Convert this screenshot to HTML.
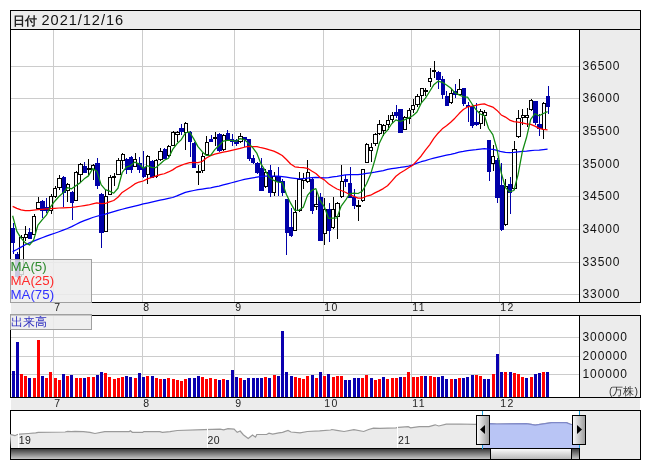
<!DOCTYPE html>
<html><head><meta charset="utf-8"><style>html,body{margin:0;padding:0;background:#fff;width:653px;height:470px;overflow:hidden}svg{display:block;will-change:transform}</style></head>
<body><svg width="653" height="470" viewBox="0 0 653 470">
<rect x="0" y="0" width="653" height="470" fill="#ffffff" />
<rect x="10" y="10" width="631" height="20" fill="#000" />
<rect x="11" y="11" width="629" height="18" fill="#ececec" />
<rect x="10" y="29" width="631" height="274" fill="#000" />
<rect x="11" y="30" width="568" height="272" fill="#ffffff" />
<rect x="580" y="30" width="60" height="272" fill="#ececec" />
<rect x="11" y="303" width="629" height="12" fill="#ececec" />
<rect x="10" y="315" width="631" height="83" fill="#000" />
<rect x="11" y="316" width="568" height="81" fill="#ffffff" />
<rect x="580" y="316" width="60" height="81" fill="#ececec" />
<rect x="11" y="398" width="629" height="12" fill="#ececec" />
<rect x="10" y="410" width="631" height="50" fill="#000" />
<rect x="11" y="411" width="569" height="37" fill="#ffffff" />
<rect x="580" y="411" width="60" height="48" fill="#ececec" />
<rect x="11" y="449" width="568" height="10" fill="#ececec" />
<rect x="11" y="66" width="568" height="1" fill="#cccccc" />
<rect x="11" y="98" width="568" height="1" fill="#cccccc" />
<rect x="11" y="131" width="568" height="1" fill="#cccccc" />
<rect x="11" y="164" width="568" height="1" fill="#cccccc" />
<rect x="11" y="196" width="568" height="1" fill="#cccccc" />
<rect x="11" y="229" width="568" height="1" fill="#cccccc" />
<rect x="11" y="262" width="568" height="1" fill="#cccccc" />
<rect x="11" y="294" width="568" height="1" fill="#cccccc" />
<rect x="53" y="30" width="1" height="272" fill="#cccccc" />
<rect x="142" y="30" width="1" height="272" fill="#cccccc" />
<rect x="234" y="30" width="1" height="272" fill="#cccccc" />
<rect x="323" y="30" width="1" height="272" fill="#cccccc" />
<rect x="411" y="30" width="1" height="272" fill="#cccccc" />
<rect x="499" y="30" width="1" height="272" fill="#cccccc" />
<rect x="11" y="337" width="568" height="1" fill="#cccccc" />
<rect x="11" y="356" width="568" height="1" fill="#cccccc" />
<rect x="11" y="374" width="568" height="1" fill="#cccccc" />
<rect x="53" y="316" width="1" height="81" fill="#cccccc" />
<rect x="142" y="316" width="1" height="81" fill="#cccccc" />
<rect x="234" y="316" width="1" height="81" fill="#cccccc" />
<rect x="323" y="316" width="1" height="81" fill="#cccccc" />
<rect x="411" y="316" width="1" height="81" fill="#cccccc" />
<rect x="499" y="316" width="1" height="81" fill="#cccccc" />
<g shape-rendering="crispEdges">
<rect x="13" y="223" width="1" height="31" fill="#0000a8" />
<rect x="11" y="228" width="4" height="15" fill="#0000a8" />
<rect x="17" y="252" width="1" height="26" fill="#0000a8" />
<rect x="15" y="254" width="5" height="23" fill="#0000a8" />
<rect x="21" y="235" width="1" height="42" fill="#000" />
<rect x="19" y="237" width="5" height="38" fill="#000" />
<rect x="20" y="238" width="3" height="36" fill="#fff" />
<rect x="25" y="226" width="1" height="15" fill="#000" />
<rect x="24" y="234" width="4" height="4" fill="#000" />
<rect x="25" y="235" width="2" height="2" fill="#fff" />
<rect x="29" y="228" width="1" height="11" fill="#0000a8" />
<rect x="28" y="232" width="4" height="7" fill="#0000a8" />
<rect x="34" y="214" width="1" height="21" fill="#000" />
<rect x="32" y="216" width="4" height="19" fill="#000" />
<rect x="33" y="217" width="2" height="17" fill="#fff" />
<rect x="38" y="197" width="1" height="13" fill="#000" />
<rect x="36" y="202" width="5" height="7" fill="#000" />
<rect x="37" y="203" width="3" height="5" fill="#fff" />
<rect x="42" y="200" width="1" height="18" fill="#0000a8" />
<rect x="40" y="201" width="5" height="10" fill="#0000a8" />
<rect x="46" y="198" width="1" height="15" fill="#0000a8" />
<rect x="45" y="207" width="4" height="4" fill="#0000a8" />
<rect x="51" y="194" width="1" height="20" fill="#000" />
<rect x="49" y="196" width="4" height="15" fill="#000" />
<rect x="50" y="197" width="2" height="13" fill="#fff" />
<rect x="55" y="186" width="1" height="12" fill="#000" />
<rect x="53" y="188" width="4" height="9" fill="#000" />
<rect x="54" y="189" width="2" height="7" fill="#fff" />
<rect x="59" y="175" width="1" height="15" fill="#000" />
<rect x="57" y="178" width="5" height="10" fill="#000" />
<rect x="58" y="179" width="3" height="8" fill="#fff" />
<rect x="63" y="176" width="1" height="31" fill="#0000a8" />
<rect x="62" y="177" width="4" height="16" fill="#0000a8" />
<rect x="67" y="183" width="1" height="19" fill="#000" />
<rect x="66" y="184" width="4" height="7" fill="#000" />
<rect x="67" y="185" width="2" height="5" fill="#fff" />
<rect x="72" y="191" width="1" height="29" fill="#0000a8" />
<rect x="70" y="192" width="4" height="11" fill="#0000a8" />
<rect x="76" y="171" width="1" height="30" fill="#000" />
<rect x="74" y="172" width="4" height="29" fill="#000" />
<rect x="75" y="173" width="2" height="27" fill="#fff" />
<rect x="80" y="163" width="1" height="19" fill="#000" />
<rect x="78" y="164" width="5" height="11" fill="#000" />
<rect x="79" y="165" width="3" height="9" fill="#fff" />
<rect x="84" y="162" width="1" height="11" fill="#0000a8" />
<rect x="83" y="166" width="4" height="7" fill="#0000a8" />
<rect x="88" y="159" width="1" height="16" fill="#000" />
<rect x="87" y="168" width="4" height="2" fill="#000" />
<rect x="93" y="164" width="1" height="16" fill="#000" />
<rect x="91" y="165" width="4" height="5" fill="#000" />
<rect x="92" y="166" width="2" height="3" fill="#fff" />
<rect x="97" y="158" width="1" height="31" fill="#0000a8" />
<rect x="95" y="163" width="5" height="23" fill="#0000a8" />
<rect x="101" y="193" width="1" height="55" fill="#0000a8" />
<rect x="99" y="194" width="5" height="39" fill="#0000a8" />
<rect x="105" y="190" width="1" height="42" fill="#000" />
<rect x="104" y="196" width="4" height="36" fill="#000" />
<rect x="105" y="197" width="2" height="34" fill="#fff" />
<rect x="110" y="175" width="1" height="20" fill="#000" />
<rect x="108" y="177" width="4" height="18" fill="#000" />
<rect x="109" y="178" width="2" height="16" fill="#fff" />
<rect x="114" y="173" width="1" height="13" fill="#000" />
<rect x="112" y="176" width="4" height="2" fill="#000" />
<rect x="118" y="158" width="1" height="17" fill="#000" />
<rect x="116" y="160" width="5" height="15" fill="#000" />
<rect x="117" y="161" width="3" height="13" fill="#fff" />
<rect x="122" y="153" width="1" height="16" fill="#000" />
<rect x="121" y="154" width="4" height="7" fill="#000" />
<rect x="122" y="155" width="2" height="5" fill="#fff" />
<rect x="126" y="158" width="1" height="16" fill="#0000a8" />
<rect x="125" y="159" width="4" height="11" fill="#0000a8" />
<rect x="131" y="156" width="1" height="17" fill="#0000a8" />
<rect x="129" y="157" width="4" height="13" fill="#0000a8" />
<rect x="135" y="153" width="1" height="14" fill="#000" />
<rect x="133" y="159" width="4" height="8" fill="#000" />
<rect x="134" y="160" width="2" height="6" fill="#fff" />
<rect x="139" y="157" width="1" height="16" fill="#0000a8" />
<rect x="137" y="163" width="5" height="7" fill="#0000a8" />
<rect x="143" y="151" width="1" height="27" fill="#0000a8" />
<rect x="142" y="167" width="4" height="10" fill="#0000a8" />
<rect x="147" y="155" width="1" height="29" fill="#000" />
<rect x="146" y="156" width="4" height="19" fill="#000" />
<rect x="147" y="157" width="2" height="17" fill="#fff" />
<rect x="152" y="160" width="1" height="18" fill="#0000a8" />
<rect x="150" y="161" width="4" height="17" fill="#0000a8" />
<rect x="156" y="159" width="1" height="19" fill="#000" />
<rect x="154" y="160" width="4" height="17" fill="#000" />
<rect x="155" y="161" width="2" height="15" fill="#fff" />
<rect x="160" y="148" width="1" height="13" fill="#000" />
<rect x="158" y="151" width="5" height="9" fill="#000" />
<rect x="159" y="152" width="3" height="7" fill="#fff" />
<rect x="164" y="148" width="1" height="11" fill="#0000a8" />
<rect x="163" y="149" width="4" height="10" fill="#0000a8" />
<rect x="168" y="145" width="1" height="12" fill="#000" />
<rect x="167" y="146" width="4" height="10" fill="#000" />
<rect x="168" y="147" width="2" height="8" fill="#fff" />
<rect x="173" y="131" width="1" height="15" fill="#000" />
<rect x="171" y="132" width="4" height="14" fill="#000" />
<rect x="172" y="133" width="2" height="12" fill="#fff" />
<rect x="177" y="131" width="1" height="11" fill="#000" />
<rect x="175" y="132" width="5" height="3" fill="#000" />
<rect x="176" y="133" width="3" height="1" fill="#fff" />
<rect x="181" y="124" width="1" height="11" fill="#0000a8" />
<rect x="179" y="128" width="5" height="4" fill="#0000a8" />
<rect x="185" y="122" width="1" height="28" fill="#000" />
<rect x="184" y="123" width="4" height="10" fill="#000" />
<rect x="185" y="124" width="2" height="8" fill="#fff" />
<rect x="190" y="131" width="1" height="26" fill="#0000a8" />
<rect x="188" y="132" width="4" height="10" fill="#0000a8" />
<rect x="194" y="142" width="1" height="26" fill="#0000a8" />
<rect x="192" y="143" width="4" height="25" fill="#0000a8" />
<rect x="198" y="165" width="1" height="20" fill="#000" />
<rect x="196" y="171" width="5" height="2" fill="#000" />
<rect x="202" y="153" width="1" height="20" fill="#000" />
<rect x="201" y="156" width="4" height="15" fill="#000" />
<rect x="202" y="157" width="2" height="13" fill="#fff" />
<rect x="206" y="136" width="1" height="19" fill="#000" />
<rect x="205" y="142" width="4" height="13" fill="#000" />
<rect x="206" y="143" width="2" height="11" fill="#fff" />
<rect x="211" y="135" width="1" height="7" fill="#0000a8" />
<rect x="209" y="139" width="4" height="3" fill="#0000a8" />
<rect x="215" y="132" width="1" height="14" fill="#000" />
<rect x="213" y="137" width="4" height="2" fill="#000" />
<rect x="219" y="133" width="1" height="19" fill="#0000a8" />
<rect x="217" y="134" width="5" height="17" fill="#0000a8" />
<rect x="223" y="134" width="1" height="17" fill="#000" />
<rect x="222" y="135" width="4" height="15" fill="#000" />
<rect x="223" y="136" width="2" height="13" fill="#fff" />
<rect x="227" y="130" width="1" height="10" fill="#0000a8" />
<rect x="226" y="133" width="4" height="7" fill="#0000a8" />
<rect x="232" y="134" width="1" height="12" fill="#0000a8" />
<rect x="230" y="139" width="4" height="3" fill="#0000a8" />
<rect x="236" y="139" width="1" height="7" fill="#0000a8" />
<rect x="234" y="140" width="5" height="4" fill="#0000a8" />
<rect x="240" y="133" width="1" height="10" fill="#000" />
<rect x="238" y="136" width="5" height="6" fill="#000" />
<rect x="239" y="137" width="3" height="4" fill="#fff" />
<rect x="244" y="137" width="1" height="10" fill="#0000a8" />
<rect x="243" y="137" width="4" height="3" fill="#0000a8" />
<rect x="249" y="139" width="1" height="22" fill="#0000a8" />
<rect x="247" y="139" width="4" height="20" fill="#0000a8" />
<rect x="253" y="155" width="1" height="9" fill="#0000a8" />
<rect x="251" y="158" width="4" height="5" fill="#0000a8" />
<rect x="257" y="162" width="1" height="12" fill="#0000a8" />
<rect x="255" y="163" width="5" height="10" fill="#0000a8" />
<rect x="261" y="158" width="1" height="33" fill="#0000a8" />
<rect x="259" y="168" width="5" height="23" fill="#0000a8" />
<rect x="265" y="169" width="1" height="19" fill="#000" />
<rect x="264" y="172" width="4" height="15" fill="#000" />
<rect x="265" y="173" width="2" height="13" fill="#fff" />
<rect x="270" y="165" width="1" height="32" fill="#0000a8" />
<rect x="268" y="170" width="4" height="23" fill="#0000a8" />
<rect x="274" y="172" width="1" height="24" fill="#000" />
<rect x="272" y="176" width="4" height="17" fill="#000" />
<rect x="273" y="177" width="2" height="15" fill="#fff" />
<rect x="278" y="167" width="1" height="29" fill="#0000a8" />
<rect x="276" y="176" width="5" height="6" fill="#0000a8" />
<rect x="282" y="179" width="1" height="17" fill="#0000a8" />
<rect x="281" y="181" width="4" height="12" fill="#0000a8" />
<rect x="286" y="199" width="1" height="56" fill="#0000a8" />
<rect x="285" y="199" width="4" height="34" fill="#0000a8" />
<rect x="291" y="208" width="1" height="29" fill="#0000a8" />
<rect x="289" y="227" width="4" height="9" fill="#0000a8" />
<rect x="295" y="200" width="1" height="31" fill="#000" />
<rect x="293" y="212" width="4" height="19" fill="#000" />
<rect x="294" y="213" width="2" height="17" fill="#fff" />
<rect x="299" y="172" width="1" height="40" fill="#000" />
<rect x="297" y="179" width="5" height="32" fill="#000" />
<rect x="298" y="180" width="3" height="30" fill="#fff" />
<rect x="303" y="173" width="1" height="16" fill="#000" />
<rect x="302" y="178" width="4" height="3" fill="#000" />
<rect x="303" y="179" width="2" height="1" fill="#fff" />
<rect x="307" y="160" width="1" height="23" fill="#000" />
<rect x="306" y="172" width="4" height="10" fill="#000" />
<rect x="307" y="173" width="2" height="8" fill="#fff" />
<rect x="312" y="178" width="1" height="36" fill="#0000a8" />
<rect x="310" y="179" width="4" height="32" fill="#0000a8" />
<rect x="316" y="191" width="1" height="19" fill="#000" />
<rect x="314" y="204" width="5" height="3" fill="#000" />
<rect x="315" y="205" width="3" height="1" fill="#fff" />
<rect x="320" y="193" width="1" height="48" fill="#0000a8" />
<rect x="318" y="197" width="5" height="44" fill="#0000a8" />
<rect x="324" y="198" width="1" height="47" fill="#000" />
<rect x="323" y="209" width="4" height="25" fill="#000" />
<rect x="324" y="210" width="2" height="23" fill="#fff" />
<rect x="329" y="203" width="1" height="39" fill="#0000a8" />
<rect x="327" y="209" width="4" height="22" fill="#0000a8" />
<rect x="333" y="197" width="1" height="32" fill="#000" />
<rect x="331" y="209" width="4" height="19" fill="#000" />
<rect x="332" y="210" width="2" height="17" fill="#fff" />
<rect x="337" y="202" width="1" height="37" fill="#000" />
<rect x="335" y="203" width="5" height="14" fill="#000" />
<rect x="336" y="204" width="3" height="12" fill="#fff" />
<rect x="341" y="165" width="1" height="33" fill="#000" />
<rect x="340" y="181" width="4" height="16" fill="#000" />
<rect x="341" y="182" width="2" height="14" fill="#fff" />
<rect x="345" y="175" width="1" height="12" fill="#0000a8" />
<rect x="344" y="179" width="4" height="3" fill="#0000a8" />
<rect x="350" y="167" width="1" height="31" fill="#0000a8" />
<rect x="348" y="183" width="4" height="15" fill="#0000a8" />
<rect x="354" y="189" width="1" height="20" fill="#0000a8" />
<rect x="352" y="197" width="4" height="9" fill="#0000a8" />
<rect x="358" y="200" width="1" height="21" fill="#000" />
<rect x="356" y="205" width="5" height="2" fill="#000" />
<rect x="362" y="169" width="1" height="33" fill="#000" />
<rect x="361" y="169" width="4" height="32" fill="#000" />
<rect x="362" y="170" width="2" height="30" fill="#fff" />
<rect x="366" y="143" width="1" height="20" fill="#000" />
<rect x="365" y="144" width="4" height="19" fill="#000" />
<rect x="366" y="145" width="2" height="17" fill="#fff" />
<rect x="371" y="143" width="1" height="19" fill="#000" />
<rect x="369" y="147" width="4" height="4" fill="#000" />
<rect x="370" y="148" width="2" height="2" fill="#fff" />
<rect x="375" y="133" width="1" height="13" fill="#000" />
<rect x="373" y="134" width="5" height="10" fill="#000" />
<rect x="374" y="135" width="3" height="8" fill="#fff" />
<rect x="379" y="120" width="1" height="15" fill="#000" />
<rect x="377" y="124" width="5" height="10" fill="#000" />
<rect x="378" y="125" width="3" height="8" fill="#fff" />
<rect x="383" y="124" width="1" height="12" fill="#000" />
<rect x="382" y="125" width="4" height="6" fill="#000" />
<rect x="383" y="126" width="2" height="4" fill="#fff" />
<rect x="388" y="115" width="1" height="15" fill="#000" />
<rect x="386" y="120" width="4" height="5" fill="#000" />
<rect x="387" y="121" width="2" height="3" fill="#fff" />
<rect x="392" y="112" width="1" height="11" fill="#000" />
<rect x="390" y="115" width="4" height="5" fill="#000" />
<rect x="391" y="116" width="2" height="3" fill="#fff" />
<rect x="396" y="105" width="1" height="13" fill="#0000a8" />
<rect x="394" y="112" width="5" height="4" fill="#0000a8" />
<rect x="400" y="109" width="1" height="24" fill="#0000a8" />
<rect x="398" y="109" width="5" height="24" fill="#0000a8" />
<rect x="404" y="116" width="1" height="14" fill="#000" />
<rect x="403" y="117" width="4" height="13" fill="#000" />
<rect x="404" y="118" width="2" height="11" fill="#fff" />
<rect x="409" y="108" width="1" height="16" fill="#000" />
<rect x="407" y="110" width="4" height="9" fill="#000" />
<rect x="408" y="111" width="2" height="7" fill="#fff" />
<rect x="413" y="99" width="1" height="14" fill="#000" />
<rect x="411" y="105" width="4" height="5" fill="#000" />
<rect x="412" y="106" width="2" height="3" fill="#fff" />
<rect x="417" y="94" width="1" height="13" fill="#000" />
<rect x="415" y="96" width="5" height="9" fill="#000" />
<rect x="416" y="97" width="3" height="7" fill="#fff" />
<rect x="421" y="88" width="1" height="15" fill="#000" />
<rect x="420" y="88" width="4" height="8" fill="#000" />
<rect x="421" y="89" width="2" height="6" fill="#fff" />
<rect x="425" y="88" width="1" height="8" fill="#000" />
<rect x="424" y="90" width="4" height="2" fill="#000" />
<rect x="430" y="68" width="1" height="19" fill="#000" />
<rect x="428" y="78" width="4" height="4" fill="#000" />
<rect x="429" y="79" width="2" height="2" fill="#fff" />
<rect x="434" y="61" width="1" height="17" fill="#000" />
<rect x="432" y="70" width="4" height="2" fill="#000" />
<rect x="438" y="71" width="1" height="18" fill="#0000a8" />
<rect x="436" y="72" width="5" height="8" fill="#0000a8" />
<rect x="442" y="76" width="1" height="23" fill="#0000a8" />
<rect x="441" y="79" width="4" height="16" fill="#0000a8" />
<rect x="446" y="91" width="1" height="15" fill="#0000a8" />
<rect x="445" y="96" width="4" height="10" fill="#0000a8" />
<rect x="451" y="89" width="1" height="15" fill="#000" />
<rect x="449" y="93" width="4" height="10" fill="#000" />
<rect x="450" y="94" width="2" height="8" fill="#fff" />
<rect x="455" y="84" width="1" height="14" fill="#0000a8" />
<rect x="453" y="91" width="5" height="4" fill="#0000a8" />
<rect x="459" y="79" width="1" height="16" fill="#000" />
<rect x="457" y="89" width="5" height="6" fill="#000" />
<rect x="458" y="90" width="3" height="4" fill="#fff" />
<rect x="463" y="88" width="1" height="18" fill="#0000a8" />
<rect x="462" y="88" width="4" height="16" fill="#0000a8" />
<rect x="468" y="102" width="1" height="20" fill="#0000a8" />
<rect x="466" y="105" width="4" height="2" fill="#0000a8" />
<rect x="472" y="106" width="1" height="22" fill="#0000a8" />
<rect x="470" y="106" width="4" height="20" fill="#0000a8" />
<rect x="476" y="103" width="1" height="23" fill="#0000a8" />
<rect x="474" y="122" width="5" height="3" fill="#0000a8" />
<rect x="480" y="109" width="1" height="20" fill="#000" />
<rect x="479" y="111" width="4" height="13" fill="#000" />
<rect x="480" y="112" width="2" height="11" fill="#fff" />
<rect x="484" y="110" width="1" height="16" fill="#000" />
<rect x="483" y="112" width="4" height="4" fill="#000" />
<rect x="484" y="113" width="2" height="2" fill="#fff" />
<rect x="489" y="140" width="1" height="41" fill="#0000a8" />
<rect x="487" y="140" width="4" height="32" fill="#0000a8" />
<rect x="493" y="145" width="1" height="26" fill="#000" />
<rect x="491" y="156" width="4" height="8" fill="#000" />
<rect x="492" y="157" width="2" height="6" fill="#fff" />
<rect x="497" y="158" width="1" height="45" fill="#0000a8" />
<rect x="495" y="160" width="5" height="38" fill="#0000a8" />
<rect x="501" y="163" width="1" height="68" fill="#0000a8" />
<rect x="500" y="185" width="4" height="45" fill="#0000a8" />
<rect x="505" y="179" width="1" height="47" fill="#000" />
<rect x="504" y="186" width="4" height="39" fill="#000" />
<rect x="505" y="187" width="2" height="37" fill="#fff" />
<rect x="510" y="177" width="1" height="37" fill="#0000a8" />
<rect x="508" y="184" width="4" height="9" fill="#0000a8" />
<rect x="514" y="141" width="1" height="49" fill="#000" />
<rect x="512" y="149" width="5" height="40" fill="#000" />
<rect x="513" y="150" width="3" height="38" fill="#fff" />
<rect x="518" y="110" width="1" height="28" fill="#000" />
<rect x="516" y="118" width="5" height="19" fill="#000" />
<rect x="517" y="119" width="3" height="17" fill="#fff" />
<rect x="522" y="109" width="1" height="16" fill="#000" />
<rect x="521" y="115" width="4" height="3" fill="#000" />
<rect x="522" y="116" width="2" height="1" fill="#fff" />
<rect x="527" y="108" width="1" height="19" fill="#000" />
<rect x="525" y="115" width="4" height="3" fill="#000" />
<rect x="526" y="116" width="2" height="1" fill="#fff" />
<rect x="531" y="99" width="1" height="12" fill="#000" />
<rect x="529" y="100" width="4" height="10" fill="#000" />
<rect x="530" y="101" width="2" height="8" fill="#fff" />
<rect x="535" y="101" width="1" height="24" fill="#0000a8" />
<rect x="533" y="101" width="5" height="22" fill="#0000a8" />
<rect x="539" y="114" width="1" height="22" fill="#0000a8" />
<rect x="537" y="124" width="5" height="5" fill="#0000a8" />
<rect x="543" y="102" width="1" height="37" fill="#000" />
<rect x="542" y="103" width="4" height="27" fill="#000" />
<rect x="543" y="104" width="2" height="25" fill="#fff" />
<rect x="548" y="86" width="1" height="28" fill="#0000a8" />
<rect x="546" y="96" width="4" height="11" fill="#0000a8" />
</g>
<polyline points="12.64,251.59 16.85,249.47 21.06,247.11 25.28,244.75 29.49,242.82 33.70,241.12 37.91,239.43 42.12,237.73 46.34,236.17 50.55,234.70 54.76,233.22 58.97,231.74 63.18,230.16 67.40,228.52 71.61,226.60 75.82,224.49 80.03,222.38 84.24,220.69 88.46,219.09 92.67,217.48 96.88,216.24 101.09,215.19 105.30,214.11 109.52,212.87 113.73,211.64 117.94,210.40 122.15,209.27 126.36,208.22 130.58,207.17 134.79,206.13 139.00,205.04 143.21,203.95 147.42,203.02 151.64,202.08 155.85,201.14 160.06,200.22 164.27,199.31 168.48,198.40 172.70,197.49 176.91,195.92 181.12,194.16 185.33,192.40 189.54,191.40 193.76,190.51 197.97,189.69 202.18,189.06 206.39,188.43 210.60,187.79 214.82,186.95 219.03,186.02 223.24,184.95 227.45,183.84 231.66,182.74 235.88,181.63 240.09,180.52 244.30,179.47 248.51,178.69 252.72,177.91 256.94,177.14 261.15,176.36 265.36,176.20 269.57,176.20 273.78,176.20 278.00,176.20 282.21,176.64 286.42,177.23 290.63,177.81 294.84,178.40 299.06,178.98 303.27,178.57 307.48,178.13 311.69,177.69 315.90,177.43 320.12,177.51 324.33,177.83 328.54,177.68 332.75,176.79 336.96,176.33 341.18,175.62 345.39,174.86 349.60,174.60 353.81,174.65 358.02,174.58 362.24,174.03 366.45,173.34 370.66,172.80 374.87,172.21 379.08,171.31 383.30,170.52 387.51,169.43 391.72,168.67 395.93,168.01 400.14,167.48 404.36,166.78 408.57,166.05 412.78,164.97 416.99,163.16 421.20,161.72 425.42,160.58 429.63,159.27 433.84,158.07 438.05,157.06 442.26,156.06 446.48,155.20 450.69,154.32 454.90,153.32 459.11,152.16 463.32,151.46 467.54,150.52 471.75,150.05 475.96,149.70 480.17,149.08 484.38,148.61 488.60,149.13 492.81,149.44 497.02,150.33 501.23,151.73 505.44,152.33 509.66,152.66 513.87,152.37 518.08,151.85 522.29,151.49 526.50,151.14 530.72,150.64 534.93,150.25 539.14,150.16 543.35,149.69 547.56,149.22" fill="none" stroke="#0000ff" stroke-width="1.25" stroke-linejoin="round"/>
<polyline points="12.64,206.32 16.85,208.31 21.06,209.92 25.28,210.66 29.49,210.72 33.70,210.20 37.91,209.71 42.12,209.28 46.34,208.85 50.55,208.55 54.76,208.28 58.97,208.00 63.18,207.77 67.40,207.54 71.61,207.31 75.82,206.88 80.03,206.25 84.24,205.62 88.46,204.99 92.67,203.91 96.88,202.84 101.09,203.56 105.30,203.48 109.52,201.90 113.73,200.50 117.94,197.24 122.15,192.40 126.36,189.66 130.58,187.08 134.79,183.92 139.00,182.04 143.21,181.01 147.42,178.86 151.64,177.52 155.85,176.08 160.06,174.58 164.27,173.75 168.48,171.94 172.70,169.86 176.91,167.07 181.12,165.42 185.33,163.78 189.54,162.56 193.76,162.45 197.97,162.68 202.18,161.52 206.39,157.94 210.60,155.70 214.82,154.14 219.03,153.13 223.24,152.10 227.45,151.47 231.66,150.36 235.88,149.32 240.09,148.42 244.30,147.23 248.51,146.49 252.72,146.72 256.94,146.55 261.15,147.73 265.36,148.61 269.57,149.96 273.78,151.16 278.00,153.09 282.21,155.50 286.42,159.53 290.63,164.00 294.84,166.83 299.06,167.34 303.27,167.63 307.48,168.28 311.69,170.98 315.90,173.49 320.12,177.56 324.33,179.88 328.54,183.70 332.75,186.50 336.96,188.97 341.18,190.47 345.39,192.26 349.60,194.55 353.81,196.43 358.02,198.15 362.24,198.03 366.45,196.22 370.66,195.21 374.87,192.91 379.08,190.83 383.30,188.60 387.51,185.73 391.72,181.06 395.93,176.25 400.14,173.06 404.36,170.55 408.57,167.83 412.78,165.12 416.99,160.58 421.20,155.96 425.42,150.03 429.63,144.79 433.84,138.40 438.05,133.20 442.26,128.85 446.48,125.82 450.69,122.29 454.90,118.18 459.11,113.57 463.32,109.50 467.54,106.98 471.75,106.20 475.96,105.28 480.17,104.36 484.38,103.86 488.60,105.70 492.81,107.10 497.02,110.39 501.23,114.95 505.44,117.09 509.66,120.09 513.87,121.64 518.08,122.17 522.29,122.91 526.50,123.97 530.72,124.32 534.93,126.08 539.14,128.39 543.35,129.37 547.56,129.84" fill="none" stroke="#ff0000" stroke-width="1.25" stroke-linejoin="round"/>
<polyline points="12.64,215.78 16.85,231.34 21.06,238.06 25.28,242.86 29.49,245.04 33.70,239.94 37.91,225.18 42.12,219.82 46.34,215.12 50.55,206.82 54.76,201.22 58.97,196.54 63.18,192.84 67.40,187.70 71.61,188.80 75.82,185.66 80.03,182.86 84.24,178.86 88.46,175.88 92.67,168.60 96.88,171.16 101.09,184.66 105.30,189.60 109.52,191.12 113.73,193.22 117.94,188.24 122.15,172.74 126.36,167.20 130.58,165.60 134.79,162.14 139.00,163.90 143.21,168.26 147.42,165.78 151.64,167.32 155.85,167.64 160.06,163.94 164.27,160.24 168.48,158.26 172.70,149.38 176.91,143.76 181.12,139.88 185.33,133.00 189.54,131.98 193.76,138.84 197.97,146.64 202.18,151.66 206.39,155.44 210.60,155.30 214.82,149.58 219.03,145.46 223.24,141.12 227.45,140.40 231.66,140.48 235.88,141.48 240.09,138.60 244.30,139.54 248.51,143.38 252.72,147.60 256.94,153.48 261.15,164.20 265.36,170.84 269.57,177.60 273.78,180.42 278.00,182.08 282.21,182.58 286.42,194.48 290.63,203.16 294.84,210.34 299.06,210.08 303.27,207.32 307.48,195.40 311.69,190.34 315.90,188.62 320.12,200.66 324.33,206.70 328.54,218.26 332.75,218.04 336.96,217.86 341.18,206.04 345.39,200.48 349.60,193.76 353.81,193.02 358.02,193.50 362.24,191.28 366.45,184.00 370.66,174.14 374.87,160.00 379.08,143.82 383.30,134.92 387.51,130.14 391.72,123.72 395.93,119.84 400.14,121.50 404.36,119.84 408.57,117.82 412.78,115.72 416.99,111.98 421.20,103.12 425.42,98.08 429.63,91.52 433.84,84.66 438.05,81.16 442.26,82.30 446.48,84.96 450.69,87.98 454.90,92.68 459.11,94.86 463.32,96.78 467.54,97.12 471.75,103.52 475.96,109.60 480.17,113.96 484.38,115.60 488.60,128.50 492.81,134.68 497.02,149.30 501.23,172.78 505.44,187.64 509.66,191.78 513.87,190.52 518.08,174.60 522.29,151.78 526.50,137.54 530.72,119.26 534.93,113.72 539.14,115.76 543.35,113.46 547.56,111.62" fill="none" stroke="#108a10" stroke-width="1.25" stroke-linejoin="round"/>
<g shape-rendering="crispEdges">
<rect x="12" y="371" width="3" height="26" fill="#0a00b0" />
<rect x="16" y="342" width="3" height="55" fill="#0a00b0" />
<rect x="20" y="374" width="3" height="23" fill="#ff0000" />
<rect x="24" y="376" width="3" height="21" fill="#ff0000" />
<rect x="28" y="378" width="3" height="19" fill="#0a00b0" />
<rect x="33" y="378" width="3" height="19" fill="#ff0000" />
<rect x="37" y="340" width="3" height="57" fill="#ff0000" />
<rect x="41" y="376" width="3" height="21" fill="#0a00b0" />
<rect x="45" y="378" width="3" height="19" fill="#ff0000" />
<rect x="49" y="372" width="3" height="25" fill="#ff0000" />
<rect x="54" y="378" width="3" height="19" fill="#ff0000" />
<rect x="58" y="380" width="3" height="17" fill="#ff0000" />
<rect x="62" y="374" width="3" height="23" fill="#0a00b0" />
<rect x="66" y="376" width="3" height="21" fill="#ff0000" />
<rect x="70" y="375" width="3" height="22" fill="#0a00b0" />
<rect x="75" y="378" width="3" height="19" fill="#ff0000" />
<rect x="79" y="378" width="3" height="19" fill="#ff0000" />
<rect x="83" y="378" width="3" height="19" fill="#0a00b0" />
<rect x="87" y="377" width="3" height="20" fill="#ff0000" />
<rect x="92" y="377" width="3" height="20" fill="#ff0000" />
<rect x="96" y="375" width="3" height="22" fill="#0a00b0" />
<rect x="100" y="372" width="3" height="25" fill="#0a00b0" />
<rect x="104" y="373" width="3" height="24" fill="#ff0000" />
<rect x="108" y="377" width="3" height="20" fill="#ff0000" />
<rect x="113" y="379" width="3" height="18" fill="#ff0000" />
<rect x="117" y="378" width="3" height="19" fill="#ff0000" />
<rect x="121" y="377" width="3" height="20" fill="#ff0000" />
<rect x="125" y="376" width="3" height="21" fill="#0a00b0" />
<rect x="129" y="377" width="3" height="20" fill="#0a00b0" />
<rect x="134" y="378" width="3" height="19" fill="#ff0000" />
<rect x="138" y="373" width="3" height="24" fill="#0a00b0" />
<rect x="142" y="377" width="3" height="20" fill="#0a00b0" />
<rect x="146" y="376" width="3" height="21" fill="#ff0000" />
<rect x="151" y="376" width="3" height="21" fill="#0a00b0" />
<rect x="155" y="378" width="3" height="19" fill="#ff0000" />
<rect x="159" y="379" width="3" height="18" fill="#ff0000" />
<rect x="163" y="379" width="3" height="18" fill="#0a00b0" />
<rect x="167" y="378" width="3" height="19" fill="#ff0000" />
<rect x="172" y="379" width="3" height="18" fill="#ff0000" />
<rect x="176" y="380" width="3" height="17" fill="#ff0000" />
<rect x="180" y="381" width="3" height="16" fill="#ff0000" />
<rect x="184" y="379" width="3" height="18" fill="#ff0000" />
<rect x="188" y="378" width="3" height="19" fill="#0a00b0" />
<rect x="193" y="378" width="3" height="19" fill="#0a00b0" />
<rect x="197" y="376" width="3" height="21" fill="#0a00b0" />
<rect x="201" y="377" width="3" height="20" fill="#ff0000" />
<rect x="205" y="379" width="3" height="18" fill="#ff0000" />
<rect x="209" y="378" width="3" height="19" fill="#ff0000" />
<rect x="214" y="379" width="3" height="18" fill="#ff0000" />
<rect x="218" y="380" width="3" height="17" fill="#0a00b0" />
<rect x="222" y="379" width="3" height="18" fill="#ff0000" />
<rect x="226" y="380" width="3" height="17" fill="#0a00b0" />
<rect x="231" y="370" width="3" height="27" fill="#0a00b0" />
<rect x="235" y="377" width="3" height="20" fill="#0a00b0" />
<rect x="239" y="378" width="3" height="19" fill="#ff0000" />
<rect x="243" y="380" width="3" height="17" fill="#0a00b0" />
<rect x="247" y="378" width="3" height="19" fill="#0a00b0" />
<rect x="252" y="378" width="3" height="19" fill="#0a00b0" />
<rect x="256" y="378" width="3" height="19" fill="#0a00b0" />
<rect x="260" y="378" width="3" height="19" fill="#0a00b0" />
<rect x="264" y="377" width="3" height="20" fill="#ff0000" />
<rect x="268" y="378" width="3" height="19" fill="#0a00b0" />
<rect x="273" y="375" width="3" height="22" fill="#ff0000" />
<rect x="277" y="376" width="3" height="21" fill="#0a00b0" />
<rect x="281" y="331" width="3" height="66" fill="#0a00b0" />
<rect x="285" y="372" width="3" height="25" fill="#0a00b0" />
<rect x="290" y="376" width="3" height="21" fill="#0a00b0" />
<rect x="294" y="377" width="3" height="20" fill="#ff0000" />
<rect x="298" y="378" width="3" height="19" fill="#ff0000" />
<rect x="302" y="379" width="3" height="18" fill="#ff0000" />
<rect x="306" y="376" width="3" height="21" fill="#ff0000" />
<rect x="311" y="375" width="3" height="22" fill="#0a00b0" />
<rect x="315" y="378" width="3" height="19" fill="#ff0000" />
<rect x="319" y="372" width="3" height="25" fill="#0a00b0" />
<rect x="323" y="376" width="3" height="21" fill="#ff0000" />
<rect x="327" y="374" width="3" height="23" fill="#0a00b0" />
<rect x="332" y="377" width="3" height="20" fill="#ff0000" />
<rect x="336" y="376" width="3" height="21" fill="#ff0000" />
<rect x="340" y="376" width="3" height="21" fill="#ff0000" />
<rect x="344" y="380" width="3" height="17" fill="#0a00b0" />
<rect x="348" y="380" width="3" height="17" fill="#0a00b0" />
<rect x="353" y="378" width="3" height="19" fill="#0a00b0" />
<rect x="357" y="378" width="3" height="19" fill="#0a00b0" />
<rect x="361" y="378" width="3" height="19" fill="#ff0000" />
<rect x="365" y="375" width="3" height="22" fill="#ff0000" />
<rect x="370" y="378" width="3" height="19" fill="#0a00b0" />
<rect x="374" y="380" width="3" height="17" fill="#ff0000" />
<rect x="378" y="379" width="3" height="18" fill="#ff0000" />
<rect x="382" y="377" width="3" height="20" fill="#0a00b0" />
<rect x="386" y="379" width="3" height="18" fill="#ff0000" />
<rect x="391" y="378" width="3" height="19" fill="#ff0000" />
<rect x="395" y="378" width="3" height="19" fill="#ff0000" />
<rect x="399" y="377" width="3" height="20" fill="#0a00b0" />
<rect x="403" y="377" width="3" height="20" fill="#ff0000" />
<rect x="407" y="372" width="3" height="25" fill="#ff0000" />
<rect x="412" y="377" width="3" height="20" fill="#ff0000" />
<rect x="416" y="377" width="3" height="20" fill="#ff0000" />
<rect x="420" y="376" width="3" height="21" fill="#ff0000" />
<rect x="424" y="376" width="3" height="21" fill="#0a00b0" />
<rect x="429" y="376" width="3" height="21" fill="#ff0000" />
<rect x="433" y="377" width="3" height="20" fill="#ff0000" />
<rect x="437" y="377" width="3" height="20" fill="#0a00b0" />
<rect x="441" y="376" width="3" height="21" fill="#0a00b0" />
<rect x="445" y="379" width="3" height="18" fill="#0a00b0" />
<rect x="450" y="379" width="3" height="18" fill="#ff0000" />
<rect x="454" y="379" width="3" height="18" fill="#0a00b0" />
<rect x="458" y="378" width="3" height="19" fill="#ff0000" />
<rect x="462" y="378" width="3" height="19" fill="#0a00b0" />
<rect x="466" y="377" width="3" height="20" fill="#0a00b0" />
<rect x="471" y="375" width="3" height="22" fill="#0a00b0" />
<rect x="475" y="375" width="3" height="22" fill="#ff0000" />
<rect x="479" y="376" width="3" height="21" fill="#ff0000" />
<rect x="483" y="379" width="3" height="18" fill="#0a00b0" />
<rect x="487" y="379" width="3" height="18" fill="#0a00b0" />
<rect x="492" y="374" width="3" height="23" fill="#ff0000" />
<rect x="496" y="354" width="3" height="43" fill="#0a00b0" />
<rect x="500" y="372" width="3" height="25" fill="#0a00b0" />
<rect x="504" y="372" width="3" height="25" fill="#ff0000" />
<rect x="509" y="372" width="3" height="25" fill="#0a00b0" />
<rect x="513" y="373" width="3" height="24" fill="#ff0000" />
<rect x="517" y="374" width="3" height="23" fill="#ff0000" />
<rect x="521" y="377" width="3" height="20" fill="#ff0000" />
<rect x="525" y="378" width="3" height="19" fill="#0a00b0" />
<rect x="530" y="377" width="3" height="20" fill="#ff0000" />
<rect x="534" y="374" width="3" height="23" fill="#0a00b0" />
<rect x="538" y="373" width="3" height="24" fill="#0a00b0" />
<rect x="542" y="372" width="3" height="25" fill="#ff0000" />
<rect x="546" y="372" width="3" height="25" fill="#0a00b0" />
</g>
<rect x="10.5" y="259.5" width="81" height="43" fill="rgba(236,236,236,0.85)" stroke="#a0a0a0" stroke-width="1"/>
<text x="10.5" y="271.3" font-family="Liberation Sans, sans-serif" font-size="13.3" fill="#2e8b2e">MA(5)</text>
<text x="10.5" y="285.3" font-family="Liberation Sans, sans-serif" font-size="13.3" fill="#ff2a2a">MA(25)</text>
<text x="10.5" y="299.3" font-family="Liberation Sans, sans-serif" font-size="13.3" fill="#3030ff">MA(75)</text>
<rect x="10.5" y="314.5" width="81" height="15" fill="rgba(236,236,236,0.85)" stroke="#a0a0a0" stroke-width="1"/>
<text x="11" y="326.3" font-family="Liberation Sans, sans-serif" font-size="11.8" fill="#3030c0">出来高</text>
<text x="13.3" y="24.8" font-family="Liberation Sans, sans-serif" font-size="12.3" font-weight="bold" fill="#222">日付</text>
<text x="41.5" y="25" font-family="Liberation Sans, sans-serif" font-size="14.6" letter-spacing="0.95" fill="#111">2021/12/16</text>
<text x="582.5" y="70.3" font-family="Liberation Sans, sans-serif" font-size="12" letter-spacing="0.9" fill="#111">36500</text>
<text x="582.5" y="102.3" font-family="Liberation Sans, sans-serif" font-size="12" letter-spacing="0.9" fill="#111">36000</text>
<text x="582.5" y="135.3" font-family="Liberation Sans, sans-serif" font-size="12" letter-spacing="0.9" fill="#111">35500</text>
<text x="582.5" y="168.3" font-family="Liberation Sans, sans-serif" font-size="12" letter-spacing="0.9" fill="#111">35000</text>
<text x="582.5" y="200.3" font-family="Liberation Sans, sans-serif" font-size="12" letter-spacing="0.9" fill="#111">34500</text>
<text x="582.5" y="233.3" font-family="Liberation Sans, sans-serif" font-size="12" letter-spacing="0.9" fill="#111">34000</text>
<text x="582.5" y="266.3" font-family="Liberation Sans, sans-serif" font-size="12" letter-spacing="0.9" fill="#111">33500</text>
<text x="582.5" y="298.3" font-family="Liberation Sans, sans-serif" font-size="12" letter-spacing="0.9" fill="#111">33000</text>
<text x="582.5" y="341.3" font-family="Liberation Sans, sans-serif" font-size="12" letter-spacing="0.9" fill="#111">300000</text>
<text x="582.5" y="360.3" font-family="Liberation Sans, sans-serif" font-size="12" letter-spacing="0.9" fill="#111">200000</text>
<text x="582.5" y="378.3" font-family="Liberation Sans, sans-serif" font-size="12" letter-spacing="0.9" fill="#111">100000</text>
<text x="609" y="394.5" font-family="Liberation Sans, sans-serif" font-size="10.5" fill="#333">(万株)</text>
<text x="54.2" y="311.3" font-family="Liberation Sans, sans-serif" font-size="10.5" letter-spacing="1.4" fill="#222">7</text>
<text x="54.2" y="407.3" font-family="Liberation Sans, sans-serif" font-size="10.5" letter-spacing="1.4" fill="#222">7</text>
<text x="143.2" y="311.3" font-family="Liberation Sans, sans-serif" font-size="10.5" letter-spacing="1.4" fill="#222">8</text>
<text x="143.2" y="407.3" font-family="Liberation Sans, sans-serif" font-size="10.5" letter-spacing="1.4" fill="#222">8</text>
<text x="235.2" y="311.3" font-family="Liberation Sans, sans-serif" font-size="10.5" letter-spacing="1.4" fill="#222">9</text>
<text x="235.2" y="407.3" font-family="Liberation Sans, sans-serif" font-size="10.5" letter-spacing="1.4" fill="#222">9</text>
<text x="324.2" y="311.3" font-family="Liberation Sans, sans-serif" font-size="10.5" letter-spacing="1.4" fill="#222">10</text>
<text x="324.2" y="407.3" font-family="Liberation Sans, sans-serif" font-size="10.5" letter-spacing="1.4" fill="#222">10</text>
<text x="412.2" y="311.3" font-family="Liberation Sans, sans-serif" font-size="10.5" letter-spacing="1.4" fill="#222">11</text>
<text x="412.2" y="407.3" font-family="Liberation Sans, sans-serif" font-size="10.5" letter-spacing="1.4" fill="#222">11</text>
<text x="500.2" y="311.3" font-family="Liberation Sans, sans-serif" font-size="10.5" letter-spacing="1.4" fill="#222">12</text>
<text x="500.2" y="407.3" font-family="Liberation Sans, sans-serif" font-size="10.5" letter-spacing="1.4" fill="#222">12</text>
<path d="M11,448 L10,434.5 L11.2,434.7 L14.9,435.7 L17.4,434.5 L19.8,434.1 L28.4,433.5 L35.7,432.9 L38.2,432.3 L65.1,432 L67.6,431.3 L71.3,431.6 L75,431.3 L83.5,431.6 L90,432.3 L94.9,433.5 L104.7,431.6 L129.2,431.6 L130.4,430.8 L132.3,432.3 L142.7,432.3 L143.9,431.6 L159.9,431.6 L162.3,432.3 L170,431.6 L177.2,430.5 L204,429.6 L220,429.2 L223.7,429.8 L228,428.6 L234.1,429.2 L237.2,432.3 L240.2,431 L243.3,434.7 L248.2,438.4 L252.5,435 L255.5,437.2 L256.8,434.5 L266.6,434.5 L269,433.2 L272.7,434.1 L278.8,432.9 L282.5,432.3 L288,430.4 L291,432 L300,432.8 L307.4,431.5 L319.6,430.9 L330.6,430 L331.9,429.5 L336.8,430.3 L344.1,431.5 L353.9,429.7 L363.7,431.5 L368.6,429.5 L373.5,428.2 L380,428.3 L395.9,427.9 L398.4,427.3 L408.2,426.6 L410.6,427.9 L419.2,426.6 L429,426.6 L435.1,424.8 L438.8,426 L446.2,424.2 L460,424.0 L474.7,424.3 L490,423.6 L496.8,424 L526.2,423.6 L531,424.3 L535.1,425.1 L551.7,422.7 L566.4,422.7 L571,424.5 L579,424 L579,448 Z" fill="#ebebeb"/>
<path d="M10,434.5 L11.2,434.7 L14.9,435.7 L17.4,434.5 L19.8,434.1 L28.4,433.5 L35.7,432.9 L38.2,432.3 L65.1,432 L67.6,431.3 L71.3,431.6 L75,431.3 L83.5,431.6 L90,432.3 L94.9,433.5 L104.7,431.6 L129.2,431.6 L130.4,430.8 L132.3,432.3 L142.7,432.3 L143.9,431.6 L159.9,431.6 L162.3,432.3 L170,431.6 L177.2,430.5 L204,429.6 L220,429.2 L223.7,429.8 L228,428.6 L234.1,429.2 L237.2,432.3 L240.2,431 L243.3,434.7 L248.2,438.4 L252.5,435 L255.5,437.2 L256.8,434.5 L266.6,434.5 L269,433.2 L272.7,434.1 L278.8,432.9 L282.5,432.3 L288,430.4 L291,432 L300,432.8 L307.4,431.5 L319.6,430.9 L330.6,430 L331.9,429.5 L336.8,430.3 L344.1,431.5 L353.9,429.7 L363.7,431.5 L368.6,429.5 L373.5,428.2 L380,428.3 L395.9,427.9 L398.4,427.3 L408.2,426.6 L410.6,427.9 L419.2,426.6 L429,426.6 L435.1,424.8 L438.8,426 L446.2,424.2 L460,424.0 L474.7,424.3 L490,423.6 L496.8,424 L526.2,423.6 L531,424.3 L535.1,425.1 L551.7,422.7 L566.4,422.7 L571,424.5 L579,424" fill="none" stroke="#9a9a9a" stroke-width="1.2"/>
<rect x="18" y="424" width="1" height="24" fill="#ffffff" />
<rect x="207" y="424" width="1" height="24" fill="#ffffff" />
<rect x="397" y="424" width="1" height="24" fill="#ffffff" />
<text x="18.7" y="443.8" font-family="Liberation Sans, sans-serif" font-size="10.5" letter-spacing="0.5" fill="#222">19</text>
<text x="207.5" y="443.8" font-family="Liberation Sans, sans-serif" font-size="10.5" letter-spacing="0.5" fill="#222">20</text>
<text x="398" y="443.8" font-family="Liberation Sans, sans-serif" font-size="10.5" letter-spacing="0.5" fill="#222">21</text>
<path d="M482.5,448 L482.5,424 L490,423.6 L496.8,424 L526.2,423.6 L531,424.3 L535.1,425.1 L551.7,422.7 L566.4,422.7 L571,424.5 L579,424 L579.5,424 L579.5,448 Z" fill="#b9c5f5"/>
<path d="M482.5,424 L490,423.6 L496.8,424 L526.2,423.6 L531,424.3 L535.1,425.1 L551.7,422.7 L566.4,422.7 L571,424.5 L579,424" fill="none" stroke="#7f88c8" stroke-width="1.2"/>
<rect x="482" y="411" width="1" height="37" fill="#1ea0d8" />
<rect x="579" y="411" width="1" height="37" fill="#1ea0d8" />
<defs><linearGradient id="dk" x1="0" y1="0" x2="0" y2="1"><stop offset="0" stop-color="#3c3c3c"/><stop offset="1" stop-color="#c8c8c8"/></linearGradient><linearGradient id="lt" x1="0" y1="0" x2="0" y2="1"><stop offset="0" stop-color="#fafafa"/><stop offset="1" stop-color="#b8b8b8"/></linearGradient><linearGradient id="hd" x1="0" y1="0" x2="1" y2="0"><stop offset="0" stop-color="#fdfdfd"/><stop offset="1" stop-color="#9a9a9a"/></linearGradient></defs>
<rect x="11" y="449" width="479" height="10" fill="url(#dk)" />
<rect x="490" y="448" width="1" height="11" fill="#000" />
<rect x="491" y="449" width="80" height="10" fill="url(#lt)" />
<rect x="571" y="448" width="1" height="11" fill="#000" />
<rect x="572" y="449" width="7" height="10" fill="url(#dk)" />
<rect x="579" y="448" width="1" height="11" fill="#000" />
<rect x="482" y="448" width="1" height="1" fill="#1ea0d8" />
<rect x="476.5" y="415.5" width="13" height="29" fill="url(#hd)" stroke="#000" stroke-width="1"/>
<rect x="572.5" y="415.5" width="13" height="29" fill="url(#hd)" stroke="#000" stroke-width="1"/>
<path d="M480,429.5 L485,425 L485,434 Z" fill="#000"/>
<path d="M577,425 L582,429.5 L577,434 Z" fill="#000"/>
</svg></body></html>
